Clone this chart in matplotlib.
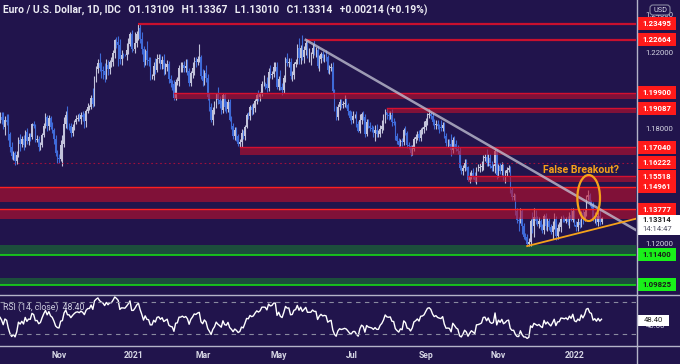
import numpy as np
import pandas as pd
import matplotlib
matplotlib.use("Agg")
import matplotlib.pyplot as plt
import matplotlib.transforms as mtransforms
from matplotlib.patches import Rectangle, Ellipse, FancyBboxPatch

plt.rcParams['font.family'] = ['Roboto', 'DejaVu Sans']

# ---------------- data (EUR/USD daily closes) ----------------
c_warm = [1.1834, 1.1830, 1.1818, 1.1903, 1.1936, 1.1911, 1.1856, 1.1849, 1.1838, 1.1819,
          1.1779, 1.1800, 1.1814, 1.1845, 1.1864]   # 2020-08-25 .. 2020-09-14 (RSI warm-up)
c_2020_09 = [1.1845, 1.1812, 1.1847, 1.1838, 1.1771, 1.1704, 1.1658, 1.1671, 1.1631, 1.1665,
             1.1744, 1.1721]
c_2020_10 = [1.1747, 1.1715, 1.1782, 1.1735, 1.1760, 1.1757, 1.1826, 1.1814, 1.1744, 1.1747,
             1.1706, 1.1718, 1.1768, 1.1817, 1.1861, 1.1815, 1.1859, 1.1812, 1.1794, 1.1747,
             1.1674, 1.1647]
c_2020_11 = [1.1641, 1.1715, 1.1721, 1.1825, 1.1874, 1.1815, 1.1813, 1.1777, 1.1808, 1.1834,
             1.1854, 1.1859, 1.1851, 1.1871, 1.1860, 1.1839, 1.1891, 1.1914, 1.1915, 1.1962,
             1.1928]
c_2020_12 = [1.2072, 1.2113, 1.2145, 1.2121, 1.2109, 1.2101, 1.2080, 1.2134, 1.2115, 1.2149,
             1.2150, 1.2197, 1.2266, 1.2255, 1.2241, 1.2164, 1.2188, 1.2187, 1.2185, 1.2213,
             1.2247, 1.2297, 1.2216]
c_2021_01 = [1.2216, 1.2249, 1.2297, 1.2327, 1.2270, 1.2220, 1.2150, 1.2206, 1.2159, 1.2155,
             1.2078, 1.2078, 1.2131, 1.2106, 1.2165, 1.2172, 1.2141, 1.2160, 1.2112, 1.2125,
             1.2138]
c_2021_02 = [1.2060, 1.2041, 1.2035, 1.1963, 1.2046, 1.2050, 1.2119, 1.2120, 1.2132, 1.2118,
             1.2128, 1.2104, 1.2039, 1.2091, 1.2118, 1.2155, 1.2150, 1.2167, 1.2175, 1.2076]
c_2021_03 = [1.2050, 1.2090, 1.2065, 1.1967, 1.1915, 1.1847, 1.1900, 1.1929, 1.1986, 1.1952,
             1.1929, 1.1901, 1.1978, 1.1915, 1.1905, 1.1939, 1.1849, 1.1815, 1.1763, 1.1793,
             1.1765, 1.1719, 1.1730]
c_2021_04 = [1.1777, 1.1762, 1.1812, 1.1875, 1.1870, 1.1915, 1.1900, 1.1910, 1.1946, 1.1978,
             1.1966, 1.1983, 1.2035, 1.2036, 1.2035, 1.2014, 1.2097, 1.2082, 1.2089, 1.2125,
             1.2126, 1.2021]
c_2021_05 = [1.2061, 1.2017, 1.2004, 1.2067, 1.2165, 1.2147, 1.2150, 1.2077, 1.2081, 1.2142,
             1.2152, 1.2223, 1.2173, 1.2226, 1.2179, 1.2212, 1.2249, 1.2193, 1.2193, 1.2193,
             1.2226]
c_2021_06 = [1.2212, 1.2212, 1.2127, 1.2166, 1.2190, 1.2173, 1.2179, 1.2175, 1.2107, 1.2119,
             1.2125, 1.1996, 1.1907, 1.1864, 1.1915, 1.1939, 1.1925, 1.1930, 1.1936, 1.1925,
             1.1894, 1.1857]
c_2021_07 = [1.1849, 1.1866, 1.1866, 1.1823, 1.1791, 1.1845, 1.1876, 1.1860, 1.1775, 1.1836,
             1.1814, 1.1807, 1.1801, 1.1780, 1.1794, 1.1771, 1.1771, 1.1800, 1.1815, 1.1842,
             1.1888, 1.1871]
c_2021_08 = [1.1868, 1.1871, 1.1835, 1.1833, 1.1762, 1.1738, 1.1718, 1.1739, 1.1729, 1.1794,
             1.1776, 1.1713, 1.1708, 1.1676, 1.1697, 1.1746, 1.1756, 1.1772, 1.1752, 1.1795,
             1.1797, 1.1808]
c_2021_09 = [1.1840, 1.1873, 1.1880, 1.1869, 1.1838, 1.1818, 1.1826, 1.1813, 1.1808, 1.1805,
             1.1818, 1.1763, 1.1725, 1.1726, 1.1723, 1.1689, 1.1740, 1.1720, 1.1695, 1.1683,
             1.1597, 1.1578]
c_2021_10 = [1.1595, 1.1620, 1.1598, 1.1533, 1.1553, 1.1570, 1.1552, 1.1530, 1.1593, 1.1595,
             1.1600, 1.1607, 1.1650, 1.1653, 1.1623, 1.1645, 1.1608, 1.1597, 1.1603, 1.1683,
             1.1558]
c_2021_11 = [1.1608, 1.1580, 1.1612, 1.1555, 1.1567, 1.1587, 1.1593, 1.1480, 1.1445, 1.1446,
             1.1369, 1.1321, 1.1320, 1.1370, 1.1291, 1.1236, 1.1234, 1.1199, 1.1208, 1.1319,
             1.1290, 1.1338]
c_2021_12 = [1.1320, 1.1304, 1.1315, 1.1286, 1.1269, 1.1344, 1.1292, 1.1315, 1.1284, 1.1258,
             1.1290, 1.1330, 1.1239, 1.1282, 1.1285, 1.1329, 1.1326, 1.1320, 1.1330, 1.1311,
             1.1348, 1.1325, 1.1370]
c_2022_01 = [1.1298, 1.1286, 1.1314, 1.1297, 1.1359, 1.1327, 1.1366, 1.1443, 1.1455, 1.1413,
             1.1404, 1.1326, 1.1343, 1.1312, 1.1344, 1.1311, 1.13314]

# upper / lower wick beyond the body, in pips, same order as the closes
wick_up = [20, 15, 40, 35, 30, 60, 20, 25, 30, 20, 25, 30, 40, 20, 25,
           25, 45, 20, 30, 40, 15, 25, 15, 12, 20, 15, 30,
           15, 20, 10, 25, 18, 20, 5, 15, 12, 20, 15, 12, 10, 15, 20, 10, 13, 10, 25, 12, 20, 15,
           20, 25, 49, 35, 20, 46, 15, 20, 15, 10, 20, 20, 25, 15, 20, 25, 15, 20, 10, 15, 50,
           5, 15, 20, 55, 30, 20, 45, 30, 25, 12, 25, 15, 7, 17, 32, 30, 25, 10, 5, 35, 29, 12, 19,
           2, 60, 15, 22, 25, 35, 15, 10, 55, 15, 20, 10, 20, 40, 25, 20, 20, 20, 30, 20, 25,
           15, 20, 15, 20, 15, 20, 15, 30, 20, 25, 40, 40, 15, 10, 30, 20, 20, 15, 68, 10,
           40, 20, 45, 20, 20, 20, 15, 15, 4, 35, 20, 20, 10, 12, 30, 20, 20, 20, 15, 15, 15, 10, 15,
           20, 15, 10, 10, 15, 10, 15, 25, 10, 10, 25, 10, 15, 45, 10, 35, 20, 35, 15, 25, 25, 25,
           15, 45, 25, 15, 10, 35, 20, 20, 20, 10, 15, 20, 55, 15, 65, 20, 17, 15, 30, 10, 20,
           45, 15, 20, 20, 15, 20, 15, 35, 10, 15, 20, 25, 15, 15, 15, 15, 20, 15, 40, 25, 10, 5,
           35, 30, 10, 29, 20, 35, 10, 20, 20, 15, 15, 20, 15, 15, 25, 30, 25, 20, 30, 35, 15, 21,
           25, 20, 35, 20, 10, 15, 15, 10, 15, 10, 20, 15, 20, 10, 20, 10, 15, 15, 20, 10, 15, 35,
           15, 10, 29, 10, 15, 15, 20, 20, 15, 40, 20, 20, 15, 20, 20, 50, 15, 25, 20, 20, 20, 15,
           15, 20, 20, 10, 20, 15, 25, 20, 5, 20, 20, 25, 15, 15, 40, 25, 25, 25, 15, 9, 9,
           10, 15, 15, 5, 20, 15, 20, 15, 15, 20, 15, 15, 15, 15, 10, 15, 20, 15, 20, 10, 45, 45,
           35, 25, 25, 15, 15, 10, 15, 20, 20, 20, 30, 30, 15, 20, 25, 15, 20, 10, 10, 15, 15, 35, 15,
           6, 20, 20, 15, 10, 20, 15, 10, 27, 10, 15, 15, 20, 20, 19, 32, 5]
wick_dn = [15, 20, 50, 15, 20, 15, 30, 20, 40, 15, 20, 30, 30, 20, 15,
           20, 15, 45, 20, 30, 25, 15, 20, 19, 15, 10, 35,
           15, 25, 12, 15, 20, 20, 10, 10, 15, 12, 20, 15, 15, 12, 10, 25, 20, 15, 15, 25, 15, 25,
           20, 10, 112, 15, 20, 15, 20, 20, 15, 15, 10, 15, 12, 25, 20, 35, 30, 10, 15, 10, 15,
           10, 25, 20, 20, 40, 40, 35, 20, 35, 25, 25, 20, 25, 30, 110, 25, 30, 15, 5, 25, 20, 15, 15,
           2, 20, 20, 31, 20, 30, 25, 15, 25, 25, 20, 15, 20, 20, 10, 20, 25, 30, 30, 25, 20,
           20, 20, 30, 11, 10, 15, 25, 20, 20, 20, 20, 20, 15, 15, 25, 35, 25, 15, 15, 14,
           25, 20, 20, 15, 20, 10, 25, 20, 20, 20, 20, 25, 20, 20, 20, 15, 10, 15, 15, 20, 30, 10, 15,
           25, 15, 20, 10, 20, 25, 25, 20, 20, 15, 20, 20, 10, 10, 25, 20, 15, 15, 20, 15, 20, 10,
           20, 15, 25, 15, 20, 20, 25, 15, 25, 20, 20, 10, 35, 35, 20, 35, 25, 20, 45, 60, 20,
           25, 35, 10, 25, 20, 15, 25, 20, 15, 20, 15, 10, 15, 17, 20, 15, 15, 15, 15, 15, 20, 10,
           25, 20, 10, 15, 10, 15, 20, 15, 20, 10, 10, 20, 20, 20, 42, 15, 15, 15, 20, 20, 10, 20,
           20, 15, 20, 15, 20, 15, 15, 10, 20, 15, 10, 15, 15, 20, 12, 15, 20, 15, 15, 15, 20, 20,
           15, 20, 15, 15, 20, 20, 20, 15, 30, 15, 15, 10, 15, 20, 15, 30, 15, 20, 10, 15, 10, 15,
           20, 15, 15, 5, 15, 15, 15, 6, 20, 15, 20, 20, 25, 20, 15, 15, 15, 20, 20, 35, 23,
           10, 15, 20, 25, 40, 15, 15, 15, 15, 15, 20, 15, 55, 15, 40, 15, 15, 13, 10, 20, 35, 55,
           20, 15, 25, 15, 15, 20, 20, 25, 15, 10, 36, 15, 20, 15, 15, 25, 15, 10, 15, 15, 30, 10, 15,
           5, 20, 20, 15, 10, 25, 10, 20, 15, 15, 20, 10, 20, 15, 20, 15, 10]

start_date = "2020-08-25"

# horizontal levels (price, lower edge of zone, start date; None = from left edge)
res_levels = [1.23495, 1.22664, 1.19900, 1.19087, 1.17040, 1.15518, 1.14961, 1.13777]
res_bottoms = [None, None, 1.1957, 1.1883, 1.1663, 1.1521, 1.1418, 1.1327]
res_starts = ["2021-01-06", "2021-05-25", "2021-02-04", "2021-07-30", "2021-03-31",
              "2021-10-06", None, None]
dotted_level = 1.16222
dotted_start = "2020-09-24"
sup_levels = [1.11400, 1.09825]
sup_tops = [1.1192, 1.1021]

down_trend = [("2021-05-25", 1.2266), ("2021-10-28", 1.1695)]
up_trend = [("2021-11-24", 1.1186), ("2022-01-25", 1.1284)]
breakout_date, breakout_price = "2022-01-13", 1.1438

scale_ticks = [1.10, 1.12, 1.18, 1.22, 1.24]

month_ticks = ["2020-11", "2021-01", "2021-03", "2021-05", "2021-07", "2021-09", "2021-11", "2022-01"]
month_labels = ["Nov", "2021", "Mar", "May", "Jul", "Sep", "Nov", "2022"]

title = "Euro / U.S. Dollar, 1D, IDC   O1.13109   H1.13367   L1.13010   C1.13314   +0.00214 (+0.19%)"
rsi_title = "RSI (14, close)  48.40"
rsi_last = 48.40
last_price_text = "1.13314"
countdown = "14:14:47"

# ---------------- build series ----------------
close = np.array(c_warm + c_2020_09 + c_2020_10 + c_2020_11 + c_2020_12 + c_2021_01 + c_2021_02
                 + c_2021_03 + c_2021_04 + c_2021_05 + c_2021_06 + c_2021_07 + c_2021_08
                 + c_2021_09 + c_2021_10 + c_2021_11 + c_2021_12 + c_2022_01)
assert len(close) == len(wick_up) == len(wick_dn), (len(close), len(wick_up), len(wick_dn))
n = len(close)
nwarm = len(c_warm)
dates = pd.bdate_range(start_date, periods=n)
x = np.arange(n) - nwarm
open_ = np.r_[close[0], close[:-1]]
high = np.maximum(open_, close) + np.array(wick_up) * 1e-4
low = np.minimum(open_, close) - np.array(wick_dn) * 1e-4


def xi(d):
    return dates.get_loc(pd.Timestamp(d)) - nwarm


delta = pd.Series(close).diff()
gain = delta.clip(lower=0)
loss = -delta.clip(upper=0)
rsi = 100 - 100 / (1 + gain.ewm(alpha=1 / 14, adjust=False).mean()
                   / loss.ewm(alpha=1 / 14, adjust=False).mean())

# ---------------- figure ----------------
BG = "#21144c"
UP = "#c3c3da"
DN = "#3f6ad8"
RED = "#ff1a1a"
TXT = "#d6d6e4"
W, H = 680, 364
fig = plt.figure(figsize=(W / 100, H / 100), dpi=100, facecolor=BG)

px_right = 636
ax = fig.add_axes([0, (H - 294) / H, px_right / W, 294 / H], facecolor=BG)
ax_r = fig.add_axes([0, (H - 345) / H, px_right / W, 50 / H], facecolor=BG)

xmin, xmax = -0.91, 375.4
ymin, ymax = 1.0935, 1.2475
ax.set_xlim(xmin, xmax)
ax.set_ylim(ymin, ymax)
ppx = (ymax - ymin) / 294.0  # price per pixel

# candles
cols = np.where(close >= open_, UP, DN)
ax.vlines(x, low, high, colors=cols, lw=0.8, zorder=3)
body_lo = np.minimum(open_, close)
body_h = np.maximum(np.abs(close - open_), 0.00008)
ax.bar(x, body_h, bottom=body_lo, width=0.8, color=cols, lw=0, zorder=3)

# resistance zones
for lvl, bot, st in zip(res_levels, res_bottoms, res_starts):
    x0 = xmin if st is None else xi(st)
    if bot is None:
        ax.plot([x0, xmax], [lvl, lvl], color="#c8102e", lw=1.6, zorder=4, solid_capstyle="butt")
    else:
        ax.fill_between([x0, xmax], bot, lvl, color="#c0102c", alpha=0.6, lw=0, zorder=4)
        ax.plot([x0, xmax], [lvl, lvl], color="#ff2020" if st is None else "#d41030",
                lw=1.0, zorder=4)
ax.plot([xi(dotted_start), xmax], [dotted_level] * 2, color="#a0103c", lw=0.8,
        ls=(0, (1.5, 2.5)), zorder=4)

# support zones
for lvl, top in zip(sup_levels, sup_tops):
    ax.fill_between([xmin, xmax], lvl, top, color="#1c4e3c", lw=0, zorder=2)
    ax.plot([xmin, xmax], [lvl, lvl], color="#16d816", lw=1.2, zorder=4)

# trend lines
(d1, p1), (d2, p2) = down_trend
s = (p2 - p1) / (xi(d2) - xi(d1))
ax.plot([xi(d1), xmax], [p1, p1 + s * (xmax - xi(d1))], color="#c8c8d8", alpha=0.75, lw=1.8, zorder=5)
(d1, p1), (d2, p2) = up_trend
s = (p2 - p1) / (xi(d2) - xi(d1))
ax.plot([xi(d1), xmax], [p1, p1 + s * (xmax - xi(d1))], color="#f5a21a", lw=1.3, zorder=5)

ax.add_patch(Ellipse((xi(breakout_date) + 0.4, breakout_price), 13.4, 46 * ppx,
                     fill=False, ec="#f5a21a", lw=1.6, zorder=6))
ax.text(xi("2021-12-07") + 0.4, breakout_price + 28 * ppx, "False Breakout?", color="#f5a21a",
        fontsize=7.6, fontweight="bold", ha="left", va="center", zorder=6)

# price scale
ax.yaxis.tick_right()
ax.set_yticks(scale_ticks)
ax.set_yticklabels([f"{t:.5f}" for t in scale_ticks])
ax.tick_params(axis="y", length=0, pad=7, labelsize=5.6, labelcolor=TXT)
ax.set_xticks([])
for sp in ax.spines.values():
    sp.set_visible(False)

trans = mtransforms.blended_transform_factory(ax.transAxes, ax.transData)
X0 = 1.0015


def label(price, txt, fc, tc, h=13):
    ax.add_patch(Rectangle((X0, price - h / 2 * ppx), 39 / px_right, h * ppx, transform=trans,
                           facecolor=fc, edgecolor="none", clip_on=False, zorder=20))
    ax.text(X0 + 19.5 / px_right, price, txt, transform=trans, ha="center", va="center",
            fontsize=5.6, fontweight="bold", color=tc, clip_on=False, zorder=21)


for lvl in res_levels + [dotted_level]:
    label(lvl, f"{lvl:.5f}", RED, "white")
for lvl in sup_levels:
    label(lvl, f"{lvl:.5f}", "#19f019", "#1a1a1a")

last = close[-1]
ax.add_patch(Rectangle((X0, last - 16.7 * ppx), 44 / px_right, 20 * ppx, transform=trans,
                       facecolor="white", edgecolor="none", clip_on=False, zorder=20))
ax.text(X0 + 20 / px_right, last - 1 * ppx, last_price_text, transform=trans, ha="center",
        va="center", fontsize=5.6, fontweight="bold", color="#222222", clip_on=False, zorder=21)
ax.text(X0 + 20 / px_right, last - 10.5 * ppx, countdown, transform=trans, ha="center",
        va="center", fontsize=5.6, color="#555566", clip_on=False, zorder=21)

# RSI panel
ax_r.set_xlim(xmin, xmax)
ax_r.set_ylim(16.25, 78.75)
ax_r.plot(x, rsi.values, color="white", lw=1.0)
for lv in (70, 30):
    ax_r.axhline(lv, color="#8a8aa0", lw=0.8, ls=(0, (4, 4)))
for sp in ax_r.spines.values():
    sp.set_visible(False)
ax_r.set_yticks([])
tick_idx = [int(np.argmax(dates >= pd.Timestamp(m + "-01"))) - nwarm for m in month_ticks]
ax_r.set_xticks(tick_idx)
ax_r.set_xticklabels(month_labels)
ax_r.tick_params(axis="x", length=0, pad=4, labelsize=6.2, labelcolor=TXT)
for t in ax_r.get_xticklabels():
    t.set_fontweight("bold")
rtrans = mtransforms.blended_transform_factory(ax_r.transAxes, ax_r.transData)
ax_r.text(X0 + 19 / px_right, 40, "40.00", transform=rtrans, ha="center", va="center",
          fontsize=5.6, color=TXT, clip_on=False)
ax_r.add_patch(Rectangle((X0, rsi_last - 6.5 / 0.8), 32 / px_right, 11 / 0.8, transform=rtrans,
                         facecolor="white", edgecolor="none", clip_on=False, zorder=20))
ax_r.text(X0 + 16 / px_right, rsi_last - 1 / 0.8, f"{rsi_last:.2f}", transform=rtrans, ha="center",
          va="center", fontsize=5.6, color="#222222", clip_on=False, zorder=21)

# overlay in pixel coordinates for frame lines and titles
ov = fig.add_axes([0, 0, 1, 1], facecolor="none")
ov.set_xlim(0, W)
ov.set_ylim(H, 0)
ov.axis("off")
ov.plot([px_right + 0.5, px_right + 0.5], [0, H], color="#b4b4c8", lw=1.0)
ov.plot([0, W], [295, 295], color="#b4b4c8", lw=1.0)
ov.plot([0, W], [345.5, 345.5], color="#b4b4c8", lw=1.0)
ov.add_patch(FancyBboxPatch((650, 5), 20, 10, boxstyle="round,pad=0,rounding_size=3",
                            facecolor=BG, edgecolor="#8888a0", lw=0.8))
ov.text(660, 10, "USD", ha="center", va="center", fontsize=5.3, color=TXT)
ov.text(3, 10, title, ha="left", va="center", fontsize=7.4, fontweight="bold", color="#ececf4")
ov.text(3, 307, rsi_title, ha="left", va="center", fontsize=6.3, color="#cfcfe0")

fig.savefig("out.png", dpi=100, facecolor=BG)
